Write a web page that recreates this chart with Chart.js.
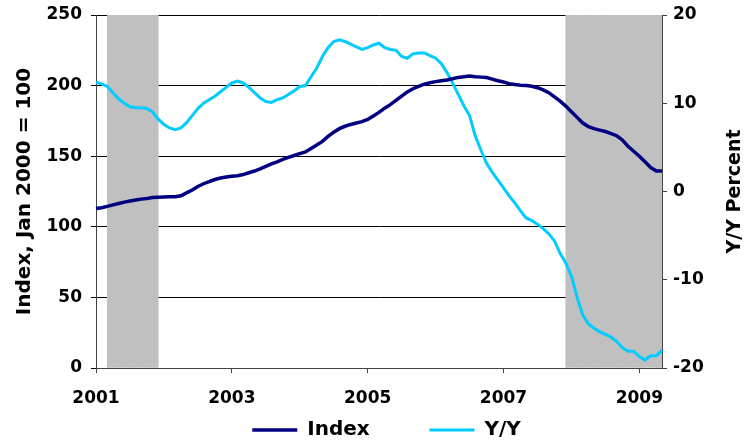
<!DOCTYPE html>
<html>
<head>
<meta charset="utf-8">
<script src="https://cdn.jsdelivr.net/npm/chart.js@4/dist/chart.umd.min.js"></script>
<style>
  html, body { margin: 0; padding: 0; background: #fff; }
  #wrap { width: 746px; height: 443px; }
</style>
</head>
<body>
<div id="wrap"><canvas id="chart"></canvas></div>
<script>
// monthly, Jan 2001 .. May 2009
const months = [];
for (let y = 2001; y <= 2009; y++) {
  for (let m = 1; m <= 12; m++) {
    if (y === 2009 && m > 5) break;
    months.push(y + '-' + String(m).padStart(2, '0'));
  }
}

const tickYears = ['2001', '2003', '2005', '2007', '2009'];

const indexValues = [
  113, 113.5, 114.5, 115.5, 116.5, 117.5, 118.3, 119, 119.6, 120.1, 120.7, 121,
  121.1, 121.2, 121.3, 122, 124, 126, 128.5, 130.5, 132, 133.5, 134.5, 135.2,
  135.8, 136.2, 137, 138.3, 139.5, 141, 142.8, 144.5, 146, 147.8, 149.2, 150.5,
  151.8, 153, 155.5, 158, 160.5, 164, 167, 169.5, 171.2, 172.5, 173.5, 174.5,
  176, 178.5, 181, 184, 186.5, 189.5, 192.5, 195.5, 197.8, 199.5, 201, 202,
  202.8, 203.5, 204, 204.8, 205.8, 206.3, 206.8, 206.3, 206, 205.7, 204.6, 203.4,
  202.5, 201.4, 200.8, 200.3, 200, 199.5, 198.5, 197, 195, 192, 189, 185.5,
  181.5, 177.5, 173.5, 171, 169.5, 168.5, 167.5, 166, 164.5, 161.5, 157, 153.5,
  150, 146, 142, 139.5, 139.5
];

const yoyValues = [
  12.4, 12.2, 11.9, 11.2, 10.5, 10.0, 9.6, 9.5, 9.5, 9.4, 9.0, 8.2,
  7.6, 7.2, 7.0, 7.2, 7.8, 8.6, 9.4, 10.0, 10.4, 10.8, 11.3, 11.8,
  12.3, 12.5, 12.3, 11.8, 11.2, 10.6, 10.2, 10.1, 10.4, 10.6, 11.0, 11.4,
  11.9, 12.0, 13.0, 14.0, 15.3, 16.3, 17.0, 17.2, 17.0, 16.7, 16.4, 16.1,
  16.3, 16.6, 16.8, 16.3, 16.1, 16.0, 15.3, 15.1, 15.6, 15.7, 15.7, 15.4,
  15.1, 14.5, 13.5, 12.3, 11.0, 9.7, 8.6, 6.3, 4.7, 3.2, 2.2, 1.3,
  0.4, -0.5, -1.3, -2.2, -3.0, -3.3, -3.7, -4.2, -4.8, -5.6, -7.0, -8.1,
  -9.6, -12.0, -14.0, -15.0, -15.5, -15.9, -16.2, -16.5, -17.0, -17.7, -18.1, -18.1,
  -18.7, -19.1, -18.6, -18.6, -18.0
];

// recession months (first, last)
const recessions = [['2001-03', '2001-11'], ['2007-12', '2009-04']];

const slots = months.slice(0, 100);
const shade = slots.map(m => recessions.some(r => m >= r[0] && m <= r[1]) ? 250 : null);

const FONT = '"DejaVu Sans", Verdana, sans-serif';

const rightTitle = {
  id: 'rightTitle',
  afterDraw(chart) {
    const { ctx, chartArea } = chart;
    ctx.save();
    ctx.translate(chartArea.right + 73, (chartArea.top + chartArea.bottom) / 2);
    ctx.rotate(-Math.PI / 2);
    ctx.font = 'bold 19px ' + FONT;
    ctx.fillStyle = '#000';
    ctx.textAlign = 'center';
    ctx.textBaseline = 'middle';
    ctx.fillText('Y/Y Percent', 0, 0);
    ctx.restore();
  }
};

new Chart(document.getElementById('chart'), {
  data: {
    labels: months,
    datasets: [
      {
        type: 'line',
        label: 'Index',
        data: indexValues,
        borderColor: '#000080',
        backgroundColor: '#000080',
        borderWidth: 3.5,
        pointRadius: 0,
        tension: 0,
        yAxisID: 'y',
        order: 1
      },
      {
        type: 'line',
        label: 'Y/Y',
        data: yoyValues,
        borderColor: '#00ccff',
        backgroundColor: '#00ccff',
        borderWidth: 3,
        pointRadius: 0,
        tension: 0,
        yAxisID: 'y2',
        order: 2
      },
      {
        type: 'bar',
        label: 'Recession',
        data: shade,
        backgroundColor: '#c0c0c0',
        borderWidth: 0,
        barPercentage: 1,
        categoryPercentage: 1,
        grouped: false,
        xAxisID: 'x2',
        yAxisID: 'y',
        order: 3
      }
    ]
  },
  options: {
    responsive: true,
    maintainAspectRatio: false,
    animation: false,
    // right padding < 0 lets the legend centre sit right of the canvas centre
    layout: { padding: { top: 15, bottom: -7, right: -27 } },
    datasets: { bar: { barPercentage: 1, categoryPercentage: 1 } },
    plugins: {
      tooltip: { enabled: false },
      legend: {
        position: 'bottom',
        labels: {
          filter: item => item.text !== 'Recession',
          generateLabels: chart => {
            const items = Chart.defaults.plugins.legend.labels.generateLabels(chart);
            // extra room after the first entry, as in the original legend
            items.forEach(it => { if (it.text === 'Index') it.text = 'Index' + ' '.repeat(8); });
            return items;
          },
          usePointStyle: true,
          pointStyle: 'line',
          pointStyleWidth: 45,
          padding: 4,
          color: '#000',
          font: { family: FONT, size: 20, weight: 'bold' }
        }
      }
    },
    scales: {
      x: {
        type: 'category',
        offset: false,
        afterFit: s => { s.height = 48; s.paddingLeft = 0; s.paddingRight = 0; },
        grid: {
          drawOnChartArea: false,
          drawTicks: true,
          tickLength: 5,
          color: c => (c.tick && c.tick.label) ? '#444' : 'rgba(0,0,0,0)'
        },
        border: { display: true, color: '#444' },
        ticks: {
          autoSkip: false,
          maxRotation: 0,
          padding: 15,
          color: '#000',
          font: { family: FONT, size: 17, weight: 'bold' },
          callback: (v, i) => {
            const m = months[i];
            return m.endsWith('-01') && tickYears.includes(m.slice(0, 4)) ? m.slice(0, 4) : '';
          }
        }
      },
      x2: {
        type: 'category',
        labels: slots,
        offset: true,
        display: false,
        grid: { display: false }
      },
      y: {
        position: 'left',
        min: 0,
        max: 250,
        afterFit: s => { s.width = 96; s.paddingTop = 0; s.paddingBottom = 0; },
        grid: { color: '#000', lineWidth: 1, tickLength: 5 },
        border: { display: true, color: '#444' },
        ticks: {
          stepSize: 50,
          padding: 9,
          color: '#000',
          font: { family: FONT, size: 17, weight: 'bold' }
        },
        title: {
          display: true,
          text: 'Index, Jan 2000 = 100',
          color: '#000',
          padding: { top: 13, bottom: 0 },
          font: { family: FONT, size: 20, weight: 'bold' }
        }
      },
      y2: {
        position: 'right',
        min: -20,
        max: 20,
        afterFit: s => { s.width = 111; s.paddingTop = 0; s.paddingBottom = 0; },
        grid: { drawOnChartArea: false, color: '#444', tickLength: 5 },
        border: { display: true, color: '#444' },
        ticks: {
          stepSize: 10,
          padding: 6,
          color: '#000',
          font: { family: FONT, size: 17, weight: 'bold' }
        }
      }
    }
  },
  plugins: [rightTitle]
});
</script>
</body>
</html>
